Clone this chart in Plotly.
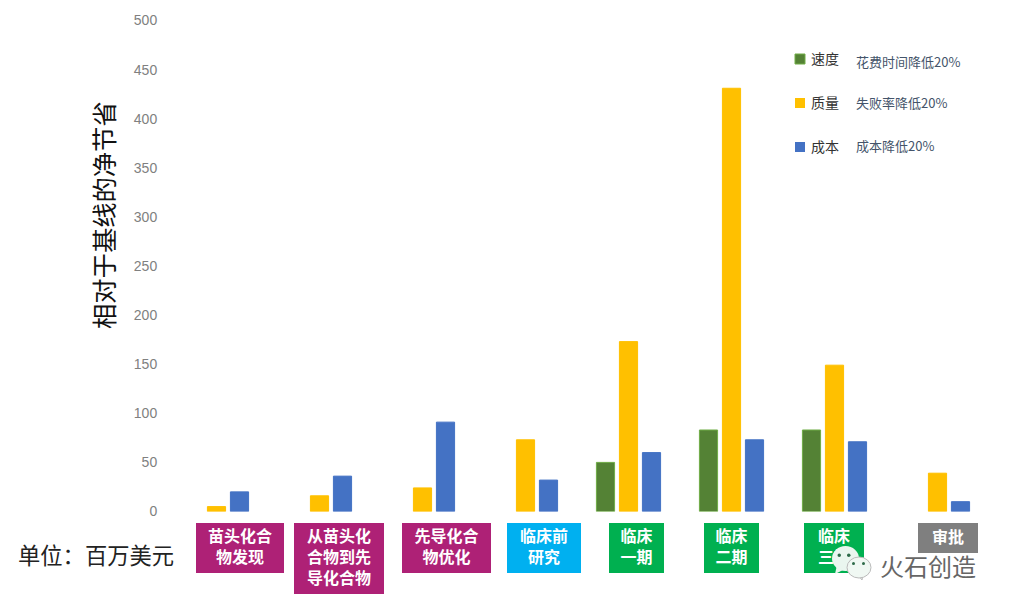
import plotly.graph_objects as go

PAGE_W, PAGE_H = 1010, 609
BODY = 8  # the page's default body margin
W, H = PAGE_W - BODY, PAGE_H - BODY
CJK = "Noto Sans CJK SC"

categories = ["苗头化合物发现", "从苗头化合物到先导化合物", "先导化合物优化", "临床前研究",
              "临床一期", "临床二期", "临床三期", "审批"]
speed = [None, None, None, None, 50, 83, 83, None]
quality = [5, 16, 24, 73, 173, 431, 149, 39]
cost = [20, 36, 91, 32, 60, 73, 71, 10]
y_ticks = [0, 50, 100, 150, 200, 250, 300, 350, 400, 450, 500]
box_labels = ["苗头化合<br>物发现", "从苗头化<br>合物到先<br>导化合物", "先导化合<br>物优化", "临床前<br>研究",
              "临床<br>一期", "临床<br>二期", "临床<br>三期", "审批"]
box_colors = ["#AE2176", "#AE2176", "#AE2176", "#00B0F0", "#00B050", "#00B050", "#00B050", "#7F7F7F"]
box_px = [(196, 284, 523, 573), (294, 384, 523, 594), (402, 491, 523, 573), (507, 581, 523, 573),
          (609, 664, 523, 573), (704, 759, 523, 573), (804, 864, 523, 573), (918, 978, 523, 553)]
legend_names = ["速度", "质量", "成本"]
legend_notes = ["花费时间降低20%", "失败率降低20%", "成本降低20%"]
legend_colors = ["#548235", "#FFC000", "#4472C4"]
legend_y = [59, 103, 147]
note_y = [61, 103, 145]


def px(v):
    return (v - BODY) / W


def py(v):
    return 1 - (v - BODY) / H


fig = go.Figure()
fig.add_bar(x=categories, y=speed, name="速度", marker=dict(color="#548235", line=dict(color="#70AD47", width=1)))
fig.add_bar(x=categories, y=quality, name="质量", marker=dict(color="#FFC000", line=dict(color="#FFC000", width=1)))
fig.add_bar(x=categories, y=cost, name="成本", marker=dict(color="#4472C4", line=dict(color="#4472C4", width=1)))

# category labels on a full-page subplot so the watermark shapes can sit above them
fig.add_scatter(
    x=[px((b[0] + b[1]) / 2) for b in box_px],
    y=[py((b[2] + b[3]) / 2 + 0.5) for b in box_px],
    text=["<b>" + t + "</b>" for t in box_labels],
    mode="text", textposition="middle center",
    textfont=dict(family=CJK, size=16, color="white"),
    xaxis="x2", yaxis="y2", cliponaxis=False, hoverinfo="skip",
)

shapes = []
for b, c in zip(box_px, box_colors):
    shapes.append(dict(type="rect", xref="paper", yref="paper", layer="below", line_width=0, fillcolor=c,
                       x0=px(b[0]), x1=px(b[1]), y0=py(b[3]), y1=py(b[2])))

annotations = []
for c, n, note, ly, ny in zip(legend_colors, legend_names, legend_notes, legend_y, note_y):
    shapes.append(dict(type="rect", xref="paper", yref="paper", line_width=1 if c == "#548235" else 0,
                       line_color="#70AD47", fillcolor=c,
                       x0=px(795), x1=px(805), y0=py(ly + 5), y1=py(ly - 5)))
    annotations.append(dict(text=n, xref="paper", yref="paper", x=px(808.5), y=py(ly - 1), xanchor="left", yanchor="middle",
                            showarrow=False, font=dict(family=CJK, size=14, color="#333333")))
    annotations.append(dict(text=note, xref="paper", yref="paper", x=px(854), y=py(ny), xanchor="left", yanchor="middle",
                            showarrow=False, font=dict(family=CJK, size=13, color="#44546A")))

annotations.append(dict(text="相对于基线的净节省", xref="paper", yref="paper", x=px(102.5), y=py(215.5), textangle=-90,
                        showarrow=False, xanchor="center", yanchor="middle",
                        font=dict(family=CJK, size=25.3, color="#111111")))
annotations.append(dict(text="单位：百万美元", xref="paper", yref="paper", x=px(16), y=py(554), showarrow=False,
                        xanchor="left", yanchor="middle", font=dict(family=CJK, size=22.3, color="#222222")))
annotations.append(dict(text="火石创造", xref="paper", yref="paper", x=px(878), y=py(565), showarrow=False,
                        xanchor="left", yanchor="middle", font=dict(family=CJK, size=24, color="#666666")))


def disc(x0, x1, y0, y1, fill, line="rgba(0,0,0,0)"):
    shapes.append(dict(type="circle", xref="paper", yref="paper", layer="above", fillcolor=fill,
                       line=dict(color=line, width=1), x0=px(x0), x1=px(x1), y0=py(y1), y1=py(y0)))


def tail(points, fill, line="rgba(0,0,0,0)"):
    path = "M " + " L ".join(f"{px(a):.5f},{py(b):.5f}" for a, b in points) + " Z"
    shapes.append(dict(type="path", xref="paper", yref="paper", layer="above", path=path, fillcolor=fill,
                       line=dict(color=line, width=1)))


# WeChat watermark bubbles
tail([(837, 565), (835, 574), (845, 569)], "#EAF6EF")
disc(832, 859, 546, 571, "#EAF6EF")
tail([(858, 575), (862, 580), (863, 575)], "#F4FAF6", "#BBBBBB")
disc(847, 871, 557, 578, "#F0F8F3", "#BBBBBB")
disc(837.5, 841, 553.5, 557, "#2E6B4A")
disc(847, 850.5, 553.5, 557, "#2E6B4A")
disc(852, 855, 562, 565, "#2E6B4A")
disc(862, 865, 562, 565, "#2E6B4A")

fig.update_layout(
    width=W, height=H, margin=dict(l=0, r=0, t=0, b=0, pad=0, autoexpand=False), autosize=False,
    paper_bgcolor="white", plot_bgcolor="rgba(0,0,0,0)", showlegend=False,
    barmode="group", bargap=0.33, bargroupgap=0.21,
    xaxis=dict(domain=[px(165), px(989)], showticklabels=False, ticks="", showgrid=False, zeroline=False,
               showline=False, type="category", categoryorder="array", categoryarray=categories),
    yaxis=dict(domain=[py(511.5), py(20.5)], range=[0, 500], tickvals=y_ticks, showgrid=False, zeroline=False,
               showline=False, ticks="outside", ticklen=4, tickcolor="rgba(0,0,0,0)",
               tickfont=dict(family="Liberation Sans", size=14, color="#808080")),
    xaxis2=dict(domain=[0, 1], range=[0, 1], anchor="y2", visible=False, fixedrange=True),
    yaxis2=dict(domain=[0, 1], range=[0, 1], anchor="x2", visible=False, fixedrange=True),
    shapes=shapes, annotations=annotations,
)
fig.write_html("out.html")
